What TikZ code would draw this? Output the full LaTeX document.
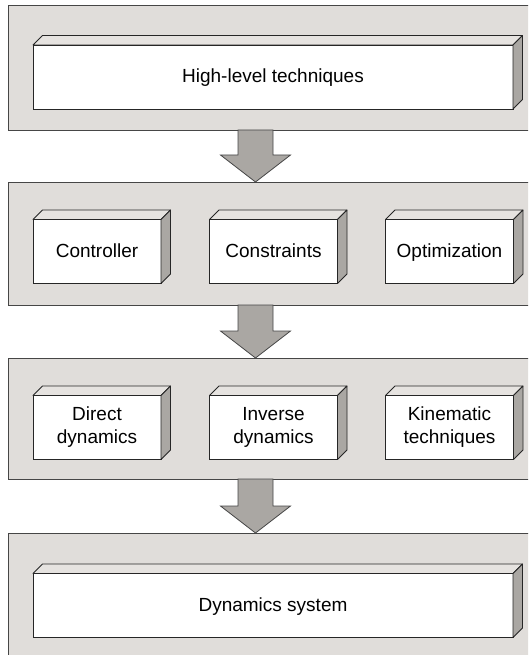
\documentclass[tikz,border=0pt]{standalone}
\usepackage{fontspec}
\setmainfont{Liberation Sans}
\definecolor{panelgray}{RGB}{224,221,218}
\definecolor{sidegray}{RGB}{170,167,163}
\definecolor{topgray}{RGB}{230,227,224}
\definecolor{edgegray}{RGB}{70,70,70}
\begin{document}
\begin{tikzpicture}[x=1pt,y=-1pt,
  panel/.style={draw=edgegray, fill=panelgray, line width=0.9pt},
  cube/.style={draw=black!85, fill=white, line width=0.8pt, inner sep=0pt, outer sep=0pt,
    minimum height=64pt, align=center, font=\fontsize{19}{23}\selectfont},
  oneline/.style={text height=15pt, text depth=3.5pt},
  wide/.style={cube, oneline, minimum width=480pt},
  narrow/.style={cube, minimum width=128pt},
  topface/.style={draw=black!85, fill=topgray, line width=0.8pt, line join=round},
  sideface/.style={draw=black!85, fill=sidegray, line width=0.8pt, line join=round},
  bigarrow/.style={draw=edgegray, fill=sidegray, line width=0.8pt, line join=miter}
]
\useasboundingbox (0,0) rectangle (528,655);
\clip (0,0) rectangle (528,655);

% layer panels
\draw[panel] (8,5) rectangle (560,130);
\draw[panel] (8,182) rectangle (560,305);
\draw[panel] (8,358) rectangle (560,479);
\draw[panel] (8,533) rectangle (560,700);

% boxes
\node[wide]   (hl)   at (273,77)    {High-level techniques};
\node[narrow, oneline] (ctrl) at (97,251.5)  {Controller};
\node[narrow, oneline] (cons) at (273.5,251.5) {Constraints};
\node[narrow, oneline] (opt)  at (449.5,251.5) {Optimization};
\node[narrow] (dir)  at (97,427.5)  {Direct\\dynamics};
\node[narrow] (inv)  at (273.5,427.5) {Inverse\\dynamics};
\node[narrow] (kin)  at (449.5,427.5) {Kinematic\\techniques};
\node[wide]   (dyn)  at (273,605.5) {Dynamics system};

% depth faces of the boxes
\foreach \n in {hl,ctrl,cons,opt,dir,inv,kin,dyn} {
  \draw[topface] (\n.north west) -- ([shift={(9.5pt,9.5pt)}]\n.north west)
     -- ([shift={(9.5pt,9.5pt)}]\n.north east) -- (\n.north east) -- cycle;
  \draw[sideface] (\n.north east) -- ([shift={(9.5pt,9.5pt)}]\n.north east)
     -- ([shift={(9.5pt,9.5pt)}]\n.south east) -- (\n.south east) -- cycle;
}

% block arrows between layers
\coordinate (s1) at (255.5,130);  \coordinate (t1) at (255.5,182);
\coordinate (s2) at (255.5,305);  \coordinate (t2) at (255.5,358);
\coordinate (s3) at (255.5,479);  \coordinate (t3) at (255.5,533);
\foreach \i in {1,2,3} {
  \draw[bigarrow] ([xshift=-17.5pt]s\i) -- ([xshift=17.5pt]s\i)
     -- ([shift={(17.5pt,27pt)}]t\i) -- ([shift={(35pt,27pt)}]t\i) -- (t\i)
     -- ([shift={(-35pt,27pt)}]t\i) -- ([shift={(-17.5pt,27pt)}]t\i) -- cycle;
}
\end{tikzpicture}
\end{document}
